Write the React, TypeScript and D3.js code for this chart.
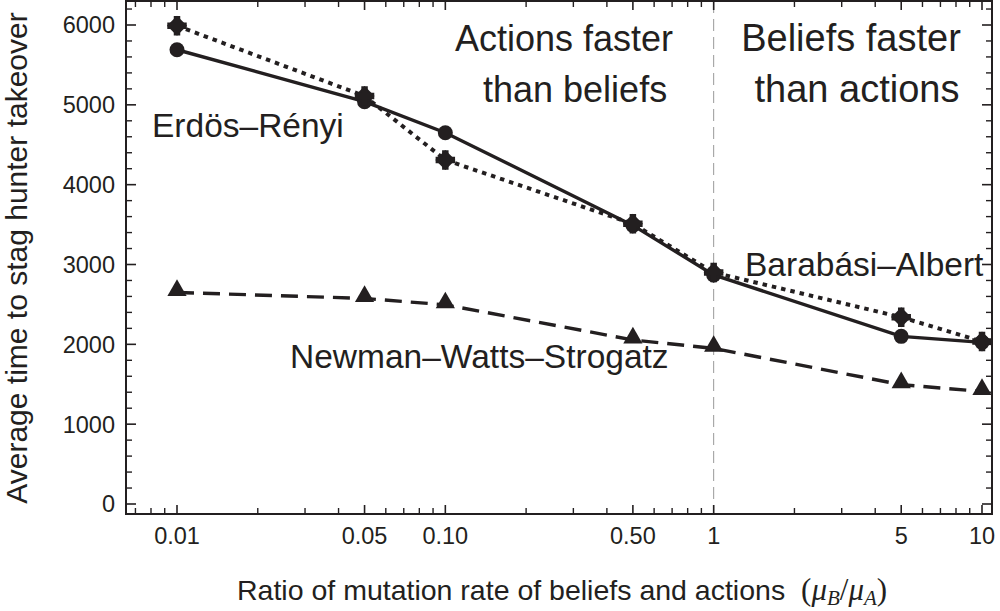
import React from "react";
import * as d3 from "d3";

// ratio of mutation rates mu_B / mu_A
const ratios = [0.01, 0.05, 0.1, 0.5, 1, 5, 10];

// average time to stag hunter takeover
const erdosRenyi = [5690, 5040, 4650, 3490, 2870, 2100, 2025];
const barabasiAlbert = [5990, 5110, 4310, 3510, 2900, 2340, 2035];
const newmanWattsStrogatz = [2650, 2575, 2495, 2055, 1950, 1495, 1410];

const xTickLabels = ["0.01", "0.05", "0.10", "0.50", "1", "5", "10"];
const yTicks = [0, 1000, 2000, 3000, 4000, 5000, 6000];

const W = 1000;
const H = 611;
const frame = { left: 126, right: 992, top: 1, bottom: 514 };
const INK = "#231f20";
const FONT = "'Liberation Sans', Arial, Helvetica, sans-serif";
const SERIF = "'Liberation Serif', 'DejaVu Serif', serif";

export default function App() {
	const x = d3.scaleLog().domain([0.01, 10]).range([177, 982]);
	const y = d3.scaleLinear().domain([0, 6000]).range([504, 25]);

	// log minor ticks: every integer multiple inside the frame
	const xMinor: number[] = [];
	for (const dec of [0.001, 0.01, 0.1, 1]) {
		for (let k = 1; k < 10; k++) {
			const v = +(dec * k).toPrecision(3);
			const px = x(v);
			if (px > frame.left + 2 && px < frame.right - 2 && !ratios.includes(v)) xMinor.push(v);
		}
	}
	const yMinor = d3.range(-200, 6400, 200).filter((v) => v % 1000 !== 0 && y(v) > frame.top + 2 && y(v) < frame.bottom - 2);

	const line = d3
		.line<number>()
		.x((_, i) => x(ratios[i]))
		.y((d) => y(d));

	const tri = d3.symbol().type(d3.symbolTriangle).size(160)();
	const square = d3.symbol().type(d3.symbolSquare).size(200)();
	const cross = d3.symbol().type(d3.symbolCross).size(210)();

	return (
		<svg width={W} height={H} style={{ position: "absolute", left: 0, top: 0, background: "#fff" }} fontFamily={FONT}>
			{/* dashed divider at ratio 1 */}
			<line x1={x(1)} x2={x(1)} y1={frame.top} y2={frame.bottom} stroke="#999" strokeWidth={1} strokeDasharray="12,6" />

			{/* frame */}
			<rect x={frame.left} y={frame.top} width={frame.right - frame.left} height={frame.bottom - frame.top} fill="none" stroke={INK} strokeWidth={2} />

			{/* x ticks, bottom and top */}
			{ratios.map((v) => (
				<g key={"xM" + v} stroke={INK} strokeWidth={1.6}>
					<line x1={x(v)} x2={x(v)} y1={frame.bottom} y2={frame.bottom - 9} />
					<line x1={x(v)} x2={x(v)} y1={frame.top} y2={frame.top + 9} />
				</g>
			))}
			{xMinor.map((v) => (
				<g key={"xm" + v} stroke={INK} strokeWidth={1.4}>
					<line x1={x(v)} x2={x(v)} y1={frame.bottom} y2={frame.bottom - 6} />
					<line x1={x(v)} x2={x(v)} y1={frame.top} y2={frame.top + 6} />
				</g>
			))}
			{/* y ticks, left and right */}
			{yTicks.map((v) => (
				<g key={"yM" + v} stroke={INK} strokeWidth={1.6}>
					<line x1={frame.left} x2={frame.left + 10} y1={y(v)} y2={y(v)} />
					<line x1={frame.right} x2={frame.right - 10} y1={y(v)} y2={y(v)} />
				</g>
			))}
			{yMinor.map((v) => (
				<g key={"ym" + v} stroke={INK} strokeWidth={1.4}>
					<line x1={frame.left} x2={frame.left + 6} y1={y(v)} y2={y(v)} />
					<line x1={frame.right} x2={frame.right - 6} y1={y(v)} y2={y(v)} />
				</g>
			))}

			{/* tick labels */}
			{ratios.map((v, i) => (
				<text key={"xl" + v} x={x(v)} y={544} textAnchor="middle" fontSize={23.5} fill={INK}>
					{xTickLabels[i]}
				</text>
			))}
			{yTicks.map((v) => (
				<text key={"yl" + v} x={115} y={y(v)} dy="0.36em" textAnchor="end" fontSize={23.5} fill={INK}>
					{v}
				</text>
			))}

			{/* series */}
			<path d={line(newmanWattsStrogatz) ?? ""} fill="none" stroke={INK} strokeWidth={3.4} strokeDasharray="17,9" />
			<path d={line(barabasiAlbert) ?? ""} fill="none" stroke={INK} strokeWidth={4} strokeDasharray="4.5,5" />
			<path d={line(erdosRenyi) ?? ""} fill="none" stroke={INK} strokeWidth={3.4} />

			{newmanWattsStrogatz.map((v, i) => (
				<path key={"t" + i} d={tri ?? ""} transform={`translate(${x(ratios[i])},${y(v) - 2})`} fill={INK} />
			))}
			{erdosRenyi.map((v, i) => (
				<circle key={"c" + i} cx={x(ratios[i])} cy={y(v)} r={7.5} fill={INK} />
			))}
			{barabasiAlbert.map((v, i) => (
				<g key={"d" + i} transform={`translate(${x(ratios[i])},${y(v)})`} fill={INK}>
					<path d={square ?? ""} transform="rotate(45)" />
					<path d={cross ?? ""} />
				</g>
			))}

			{/* region annotations */}
			<g fontSize={36} fill={INK}>
				<text x={455} y={51}>Actions faster</text>
				<text x={483} y={102}>than beliefs</text>
			</g>
			<g fontSize={38} fill={INK} textAnchor="middle">
				<text x={851} y={51}>Beliefs faster</text>
				<text x={857} y={102}>than actions</text>
			</g>

			{/* network labels */}
			<g fontSize={33.5} fill={INK}>
				<text x={152} y={137}>Erdös–Rényi</text>
				<text x={745} y={276}>Barabási–Albert</text>
				<text x={290} y={368}>Newman–Watts–Strogatz</text>
			</g>

			{/* axis titles */}
			<text x={237} y={600} fontSize={28.5} fill={INK}>
				Ratio of mutation rate of beliefs and actions{" "}
				<tspan fontFamily={SERIF} fontSize={31} dx={8}>(</tspan>
				<tspan fontFamily={SERIF} fontSize={31} fontStyle="italic">μ</tspan>
				<tspan fontFamily={SERIF} fontStyle="italic" fontSize={21} dy={5}>B</tspan>
				<tspan fontFamily={SERIF} fontSize={31} dy={-5}>/</tspan>
				<tspan fontFamily={SERIF} fontSize={31} fontStyle="italic">μ</tspan>
				<tspan fontFamily={SERIF} fontStyle="italic" fontSize={21} dy={5}>A</tspan>
				<tspan fontFamily={SERIF} fontSize={31} dy={-5}>)</tspan>
			</text>
			<text transform={`translate(27,258) rotate(-90)`} textAnchor="middle" fontSize={30} fill={INK}>
				Average time to stag hunter takeover
			</text>
		</svg>
	);
}
